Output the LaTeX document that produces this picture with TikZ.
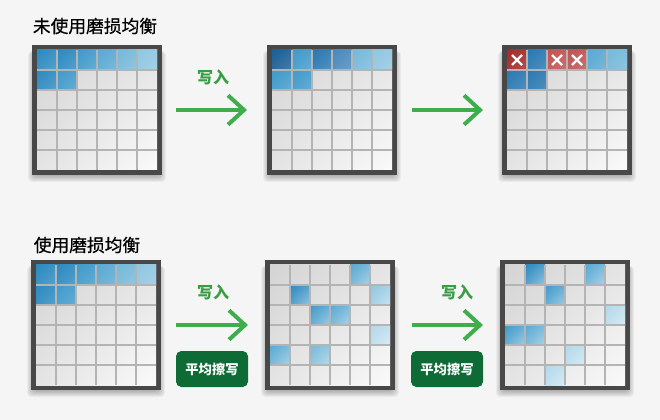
\documentclass[tikz,border=0pt]{standalone}
\usepackage{fontspec}
\setmainfont{Noto Sans CJK SC}
\newfontfamily\headfont[FakeBold=0.6]{Noto Sans CJK SC}
\usetikzlibrary{arrows.meta,shadings}

\definecolor{bgcol}{HTML}{F5F5F5}
\definecolor{framecol}{HTML}{484848}
\definecolor{cellA}{HTML}{D4D4D4}
\definecolor{cellM}{HTML}{E4E4E4}
\definecolor{cellB}{HTML}{FAFAFA}
\definecolor{linecol}{HTML}{B4B4B4}
\definecolor{flowgreen}{HTML}{3DAE4B}
\definecolor{wgreen}{HTML}{379E43}
\definecolor{btngreen}{HTML}{0E6B36}
\definecolor{bluA}{HTML}{1A5F95}
\definecolor{bluB}{HTML}{2A78B2}
\definecolor{bluC}{HTML}{2C8AC0}
\definecolor{bluD}{HTML}{409ACA}
\definecolor{bluE}{HTML}{5AA9D2}
\definecolor{bluF}{HTML}{76B9D9}
\definecolor{bluG}{HTML}{90C6E0}
\definecolor{bluH}{HTML}{B2D8EA}
\definecolor{bluI}{HTML}{4A88BC}
\definecolor{redA}{HTML}{A52A2A}
\definecolor{redB}{HTML}{C05353}

\tikzset{
  framebox/.style={fill=framecol},
  softshadow/.style={fill=black, opacity=0.045, rounded corners=3pt},
  gridline/.style={draw=linecol, line width=1.5pt},
  flow/.style={draw=flowgreen, line width=3pt, -{Straight Barb[length=12pt,width=22pt]}},
  wlabel/.style={text=wgreen, font=\fontsize{12}{14}\selectfont\bfseries, inner sep=0.75pt},
  title/.style={text=black, font=\headfont\fontsize{13.3}{16}\selectfont, inner sep=0.75pt},
  btn/.style={fill=btngreen, text=white, rounded corners=4pt, minimum width=54pt, minimum height=27pt, font=\fontsize{10}{12}\selectfont\bfseries, inner sep=0pt},
  xmark/.style={draw=white, line width=1.8pt}
}

\begin{document}
\begin{tikzpicture}[x=0.75pt,y=0.75pt,yscale=-1,xscale=1]
\useasboundingbox[fill=bgcol] (0,0) rectangle (660,420);

%Shape: Frames with cell grid
\foreach \gx/\gy in {32/45, 267/45, 502/45, 31/260, 265/260, 500/260} {
  \foreach \s in {0,...,6}
    \fill[softshadow] ({\gx+2-\s},{\gy+6}) rectangle ({\gx+128+\s},{\gy+131+\s});
  \fill[framebox] (\gx,\gy) rectangle ++(130,130);
  \shade[upper left=cellA, upper right=cellM, lower left=cellM, lower right=cellB] ({\gx+5},{\gy+5}) rectangle ++(120,120);
}

%Shape: Written cells, top row
\foreach \c/\r/\col in {1/1/bluC, 2/1/bluC, 3/1/bluD, 4/1/bluE, 5/1/bluF, 6/1/bluG, 1/2/bluC, 2/2/bluD}
  \shade[upper left=\col, upper right=\col!92!white, lower left=\col!92!white, lower right=\col!80!white] ({37+(\c-1)*20},{50+(\r-1)*20}) rectangle ++(20,20);
\foreach \c/\r/\col in {1/1/bluA, 2/1/bluD, 3/1/bluB, 4/1/bluI, 5/1/bluF, 6/1/bluG, 1/2/bluD, 2/2/bluD}
  \shade[upper left=\col, upper right=\col!92!white, lower left=\col!92!white, lower right=\col!80!white] ({272+(\c-1)*20},{50+(\r-1)*20}) rectangle ++(20,20);
\foreach \c/\r/\col in {1/1/redA, 2/1/bluB, 3/1/redB, 4/1/redB, 5/1/bluE, 6/1/bluF, 1/2/bluB, 2/2/bluB}
  \shade[upper left=\col, upper right=\col!92!white, lower left=\col!92!white, lower right=\col!82!white] ({507+(\c-1)*20},{50+(\r-1)*20}) rectangle ++(20,20);

%Shape: Written cells, bottom row
\foreach \c/\r/\col in {1/1/bluC, 2/1/bluC, 3/1/bluD, 4/1/bluE, 5/1/bluF, 6/1/bluG, 1/2/bluC, 2/2/bluD}
  \shade[upper left=\col, upper right=\col!92!white, lower left=\col!92!white, lower right=\col!80!white] ({36+(\c-1)*20},{265+(\r-1)*20}) rectangle ++(20,20);
\foreach \c/\r/\col in {5/1/bluE, 2/2/bluC, 6/2/bluG, 3/3/bluD, 4/3/bluE, 6/4/bluH, 1/5/bluE, 3/5/bluF}
  \shade[upper left=\col, upper right=\col!80!white, lower left=\col!80!white, lower right=\col!50!white] ({270+(\c-1)*20},{265+(\r-1)*20}) rectangle ++(20,20);
\foreach \c/\r/\col in {2/1/bluC, 5/1/bluE, 3/2/bluD, 6/3/bluH, 1/4/bluD, 2/4/bluE, 4/5/bluH, 3/6/bluH}
  \shade[upper left=\col, upper right=\col!80!white, lower left=\col!80!white, lower right=\col!50!white] ({505+(\c-1)*20},{265+(\r-1)*20}) rectangle ++(20,20);

%Straight Lines: cell borders
\foreach \gx/\gy in {37/50, 272/50, 507/50, 36/265, 270/265, 505/265}
  \foreach \i in {1,...,5} {
    \draw[gridline] ({\gx+\i*20},\gy) -- ++(0,120);
    \draw[gridline] (\gx,{\gy+\i*20}) -- ++(120,0);
  }

%Shape: Worn-out marks
\foreach \mx in {517, 557, 577} {
  \draw[xmark] ({\mx-5},55) -- ({\mx+5},65);
  \draw[xmark] ({\mx-5},65) -- ({\mx+5},55);
}

% Arrow ends
\coordinate (a1s) at (176,110);
\coordinate (a1e) at (247,110);
\coordinate (a2s) at (412,110);
\coordinate (a2e) at (483,110);
\coordinate (a3s) at (176,325);
\coordinate (a3e) at (248,325);
\coordinate (a4s) at (412,325);
\coordinate (a4e) at (483,325);
\draw[flow] (a1s) -- (a1e);
\draw[flow] (a2s) -- (a2e);
\draw[flow] (a3s) -- (a3e);
\draw[flow] (a4s) -- (a4e);

% Text Node
\node[title] (t1) at (95,26) {未使用磨损均衡};
% Text Node
\node[title] (t2) at (87,245) {使用磨损均衡};
% Text Node
\node[wlabel] (w1) at (213,77) {写入};
% Text Node
\node[wlabel] (w2) at (213,292) {写入};
% Text Node
\node[wlabel] (w3) at (457,292) {写入};
% Button Node
\node[btn] (b1) at (212,369) {平均擦写};
% Button Node
\node[btn] (b2) at (447,369) {平均擦写};
\end{tikzpicture}
\end{document}
